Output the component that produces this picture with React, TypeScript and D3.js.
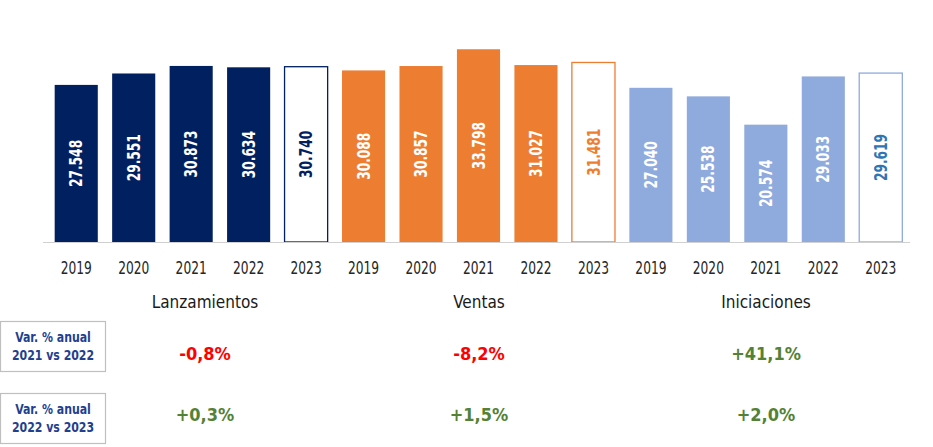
import React, { useEffect, useRef } from "react";
import * as d3 from "d3";

const years = ["2019", "2020", "2021", "2022", "2023"];
const groupNames = ["Lanzamientos", "Ventas", "Iniciaciones"];
const lanzamientos = [27548, 29551, 30873, 30634, 30740];
const ventas = [30088, 30857, 33798, 31027, 31481];
const iniciaciones = [27040, 25538, 20574, 29033, 29619];
const var2122 = [-0.8, -8.2, 41.1];
const var2223 = [0.3, 1.5, 2.0];
const rowLabels = [
  ["Var. % anual", "2021 vs 2022"],
  ["Var. % anual", "2022 vs 2023"],
];

const fills = ["#002060", "#ED7D31", "#8FAADC"];
const openText = ["#002060", "#ED7D31", "#2E75B6"];

const cond = "'DejaVu Sans Condensed', 'Liberation Sans Narrow', sans-serif";

const fmt = (v: number) => d3.format(",")(v).replace(/,/g, ".");
const fmtPct = (v: number) =>
  (v >= 0 ? "+" : "-") + Math.abs(v).toFixed(1).replace(".", ",") + "%";

const App = () => {
  const svgRef = useRef<SVGSVGElement | null>(null);

  useEffect(() => {
    const width = 933;
    const height = 447;
    const svg = d3.select(svgRef.current).attr("width", width).attr("height", height);
    svg.selectAll("*").remove();

    const series = [lanzamientos, ventas, iniciaciones];
    const data = series.flatMap((vals, g) =>
      vals.map((v, i) => ({ key: `${g}-${years[i]}`, g, year: years[i], value: v, open: i === years.length - 1 }))
    );

    const baseY = 242;
    const x = d3
      .scaleBand()
      .domain(data.map((d) => d.key))
      .range([47.5, 909.5])
      .paddingInner(0.25)
      .paddingOuter(0.125);
    const y = d3.scaleLinear().domain([0, 37000]).range([baseY, 31]);

    // bars
    svg
      .append("g")
      .selectAll("rect")
      .data(data)
      .join("rect")
      .attr("x", (d) => x(d.key)!)
      .attr("y", (d) => y(d.value))
      .attr("width", x.bandwidth())
      .attr("height", (d) => baseY - y(d.value))
      .attr("fill", (d) => (d.open ? "#ffffff" : fills[d.g]))
      .attr("stroke", (d) => (d.open ? fills[d.g] : "none"))
      .attr("stroke-width", 1.3);

    // baseline
    svg
      .append("line")
      .attr("x1", 43)
      .attr("x2", 910)
      .attr("y1", baseY + 0.5)
      .attr("y2", baseY + 0.5)
      .attr("stroke", "#d0d0d0")
      .attr("stroke-width", 1.2);

    // value labels inside bars (squeezed along the text run to look narrow)
    svg
      .append("g")
      .selectAll("text")
      .data(data)
      .join("text")
      .attr("transform", (d) => {
        const cx = x(d.key)! + x.bandwidth() / 2;
        const cy = (y(d.value) + baseY) / 2;
        return `translate(${cx},${cy}) rotate(-90) scale(0.8,1)`;
      })
      .attr("text-anchor", "middle")
      .attr("dy", "0.36em")
      .style("font-family", cond)
      .style("font-weight", "bold")
      .style("font-size", "17px")
      .attr("fill", (d) => (d.open ? openText[d.g] : "#ffffff"))
      .text((d) => fmt(d.value));

    // year labels
    svg
      .append("g")
      .selectAll("text")
      .data(data)
      .join("text")
      .attr("transform", (d) => `translate(${x(d.key)! + x.bandwidth() / 2},274) scale(0.8,1)`)
      .attr("text-anchor", "middle")
      .style("font-family", cond)
      .style("font-size", "17px")
      .attr("fill", "#262626")
      .text((d) => d.year);

    // group titles and variation figures
    const colX = [205, 479, 766];
    svg
      .append("g")
      .selectAll("text")
      .data(groupNames)
      .join("text")
      .attr("x", (_, i) => colX[i])
      .attr("y", 308)
      .attr("text-anchor", "middle")
      .style("font-family", cond)
      .style("font-size", "17px")
      .attr("fill", "#1a1a1a")
      .text((d) => d);

    const rows = [var2122, var2223];
    const rowY = [360, 421];
    rows.forEach((vals, r) => {
      svg
        .append("g")
        .selectAll("text")
        .data(vals)
        .join("text")
        .attr("x", (_, i) => colX[i])
        .attr("y", rowY[r])
        .attr("text-anchor", "middle")
        .style("font-family", cond)
        .style("font-weight", "bold")
        .style("font-size", "18px")
        .attr("fill", (d) => (d < 0 ? "#FF0000" : "#548235"))
        .text((d) => fmtPct(d));
    });

    // row header boxes
    const boxTop = [321, 393];
    rowLabels.forEach((lines, r) => {
      const g = svg.append("g").attr("transform", `translate(0,${boxTop[r]})`);
      g.append("rect")
        .attr("x", 0.5)
        .attr("y", 0.5)
        .attr("width", 105)
        .attr("height", 50)
        .attr("fill", "#ffffff")
        .attr("stroke", "#bfbfbf")
        .attr("stroke-width", 1.2);
      g.selectAll("text")
        .data(lines)
        .join("text")
        .attr("transform", (_, i) => `translate(53,${21 + i * 18}) scale(0.87,1)`)
        .attr("text-anchor", "middle")
        .style("font-family", cond)
        .style("font-weight", "bold")
        .style("font-size", "14px")
        .attr("fill", "#1F3F8F")
        .text((d) => d);
    });
  }, []);

  return (
    <div style={{ position: "absolute", left: 0, top: 0 }}>
      <svg ref={svgRef} />
    </div>
  );
};

export default App;
